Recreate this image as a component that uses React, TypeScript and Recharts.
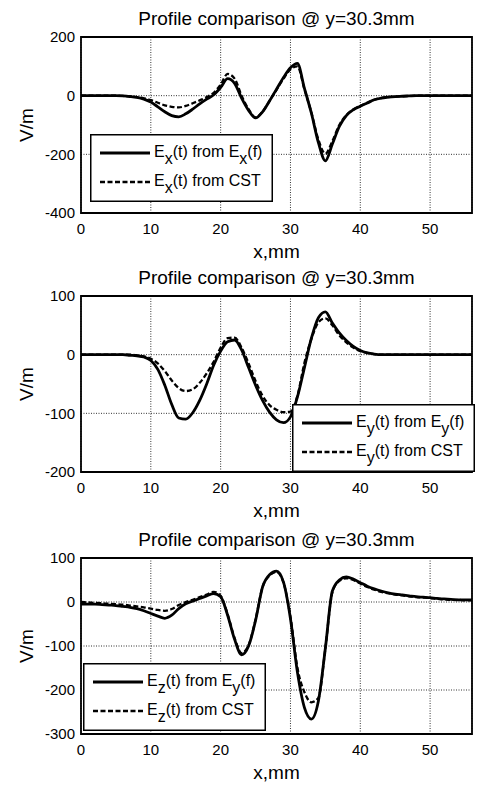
import { LineChart, Line, XAxis, YAxis, CartesianGrid, ReferenceArea, Legend } from "recharts";

// x positions along the profile, mm
const xMm = [
  0, 1, 2, 3, 4, 5, 6, 7, 8, 9, 10, 11, 12, 13, 14, 15, 16, 17, 18, 19, 20, 21, 22, 23, 24, 25, 26, 27, 28,
  29, 30, 31, 32, 33, 34, 35, 36, 37, 38, 39, 40, 41, 42, 43, 44, 45, 46, 47, 48, 49, 50, 51, 52, 53, 54, 55, 56,
];

// panel 1: Ex
const exFromExf = [
  0, 0, 0, 0, 0, 0, -1, -3, -6, -12,
  -22, -38, -55, -68, -72, -62, -46, -28, -12, 3,
  28, 58, 42, -8, -50, -76, -55, -18, 22, 62,
  95, 110, 25, -60, -160, -222, -165, -105, -68, -48,
  -36, -25, -14, -8, -5, -3, -2, -1, 0, 0,
  0, 0, 0, 0, 0, 0, 0,
];
const exFromCst = [
  0, 0, 0, 0, 0, 0, -1, -2, -5, -9,
  -15, -24, -33, -38, -40, -35, -26, -16, -5, 10,
  38, 74, 58, 0, -46, -74, -55, -18, 20, 58,
  90, 100, 22, -58, -150, -198, -155, -100, -66, -47,
  -35, -24, -14, -8, -5, -3, -2, -1, 0, 0,
  0, 0, 0, 0, 0, 0, 0,
];

// panel 2: Ey
const eyFromEyf = [
  0, 0, 0, 0, 0, 0, 0, -1, -2, -4,
  -10, -25, -52, -85, -108, -110, -99, -78, -50, -18,
  6, 22, 25, 8, -22, -52, -78, -98, -111, -116,
  -106, -72, -22, 28, 63, 73, 54, 37, 24, 14,
  7, 3, 1, 0, 0, 0, 0, 0, 0, 0,
  0, 0, 0, 0, 0, 0, 0,
];
const eyFromCst = [
  0, 0, 0, 0, 0, 0, 0, 0, -1, -3,
  -7, -15, -28, -44, -57, -62, -59, -48, -32, -12,
  12, 28, 29, 12, -15, -45, -70, -86, -94, -98,
  -97, -70, -14, 27, 55, 62, 50, 33, 21, 12,
  6, 3, 1, 0, 0, 0, 0, 0, 0, 0,
  0, 0, 0, 0, 0, 0, 0,
];

// panel 3: Ez
const ezFromEyf = [
  -5, -5, -5, -6, -7, -8, -10, -12, -15, -20,
  -26, -32, -37, -30, -15, -4, 2, 8, 14, 19,
  12, -30, -85, -120, -100, -42, 34, 62, 70, 45,
  -38, -160, -240, -266, -225, -105, 25, 50, 57, 52,
  44, 36, 30, 25, 21, 18, 16, 14, 12, 11,
  10, 8, 7, 6, 5, 5, 5,
];
const ezFromCst = [
  0, -1, -2, -3, -4, -5, -6, -8, -10, -12,
  -15, -18, -20, -16, -7, 0, 5, 11, 17, 23,
  14, -28, -82, -116, -98, -40, 34, 60, 68, 44,
  -34, -150, -205, -228, -218, -105, 22, 48, 54, 50,
  42, 34, 28, 23, 20, 17, 15, 13, 11, 10,
  9, 7, 6, 5, 5, 4, 4,
];

const xTicks = [0, 10, 20, 30, 40, 50];
const yTicks1 = [-400, -200, 0, 200];
const yTicks2 = [-200, -100, 0, 100];
const yTicks3 = [-300, -200, -100, 0, 100];

const TITLE = "Profile comparison @ y=30.3mm";
const FONT = "'Liberation Sans', Arial, Helvetica, sans-serif";

type Seg = { t: string; sub?: boolean };

function LegendBox({ rows }: { rows: Seg[][] }) {
  return (
    <svg width={183} height={68} style={{ display: "block" }}>
      <rect x={0.75} y={0.75} width={181.5} height={66.5} fill="#fff" stroke="#000" strokeWidth={1.5} />
      {rows.map((segs, i) => {
        const cy = 19 + i * 29;
        return (
          <g key={i}>
            <line
              x1={10}
              x2={60}
              y1={cy}
              y2={cy}
              stroke="#000"
              strokeWidth={i === 0 ? 2.8 : 2.3}
              strokeDasharray={i === 0 ? undefined : "5 2.5"}
            />
            <text x={64} y={cy + 4} fontFamily={FONT} fontSize={16} fill="#000">
              {segs.map((s, j) => (
                <tspan key={j} dy={s.sub ? 7 : j > 0 && segs[j - 1].sub ? -7 : 0}>
                  {s.t}
                </tspan>
              ))}
            </text>
          </g>
        );
      })}
    </svg>
  );
}

type PanelProps = {
  top: number;
  solid: number[];
  dashed: number[];
  yDomain: [number, number];
  yTicks: number[];
  legendRows: Seg[][];
  legendPos: { left: number; top: number };
};

function Panel({ top, solid, dashed, yDomain, yTicks, legendRows, legendPos }: PanelProps) {
  const data = xMm.map((x, i) => ({ x, solid: solid[i], dashed: dashed[i] }));
  return (
    <div style={{ position: "absolute", left: 0, top, width: 481, height: 262 }}>
      <div
        style={{
          position: "absolute",
          left: 81,
          top: 9,
          width: 391,
          textAlign: "center",
          fontSize: 19,
          lineHeight: "19px",
          color: "#000",
          fontFamily: FONT,
        }}
      >
        {TITLE}
      </div>
      <LineChart width={481} height={262} data={data} margin={{ top: 37, right: 9, bottom: 0, left: 0 }}>
        <CartesianGrid stroke="#333" strokeDasharray="1 1.5" strokeWidth={1} />
        <XAxis
          dataKey="x"
          type="number"
          domain={[0, 56]}
          ticks={xTicks}
          allowDataOverflow
          height={49}
          axisLine={false}
          tickLine={false}
          tickSize={6}
          tickMargin={4}
          tick={{ fill: "#000", fontSize: 15, fontFamily: FONT }}
          label={{ value: "x,mm", position: "insideBottom", offset: 4, fill: "#000", fontSize: 19, fontFamily: FONT }}
        />
        <YAxis
          type="number"
          domain={yDomain}
          ticks={yTicks}
          allowDataOverflow
          width={81}
          axisLine={false}
          tickLine={false}
          tickSize={4}
          tickMargin={2}
          tick={{ fill: "#000", fontSize: 15, fontFamily: FONT }}
          label={(p: any) => {
            const vb = p.viewBox || {};
            const cy = (vb.y ?? 37) + (vb.height ?? 176) / 2;
            return (
              <text
                x={26}
                y={cy}
                transform={`rotate(-90 26 ${cy})`}
                textAnchor="middle"
                dominantBaseline="central"
                fontSize={19}
                fontFamily={FONT}
                fill="#000"
              >
                V/m
              </text>
            );
          }}
        />
        <ReferenceArea
          x1={0}
          x2={56}
          y1={yDomain[0]}
          y2={yDomain[1]}
          fill="none"
          fillOpacity={0}
          stroke="#000"
          strokeWidth={1.8}
          ifOverflow="visible"
        />
        <Line
          dataKey="dashed"
          type="monotone"
          stroke="#000"
          strokeWidth={2.3}
          strokeDasharray="5 2.5"
          dot={false}
          activeDot={false}
          isAnimationActive={false}
        />
        <Line
          dataKey="solid"
          type="monotone"
          stroke="#000"
          strokeWidth={2.8}
          dot={false}
          activeDot={false}
          isAnimationActive={false}
        />
        <Legend
          layout="horizontal"
          verticalAlign="middle"
          align="center"
          wrapperStyle={{ left: legendPos.left, top: legendPos.top, width: 183, height: 68 }}
          content={() => <LegendBox rows={legendRows} />}
        />
      </LineChart>
    </div>
  );
}

const legend1: Seg[][] = [
  [{ t: "E" }, { t: "x", sub: true }, { t: "(t) from E" }, { t: "x", sub: true }, { t: "(f)" }],
  [{ t: "E" }, { t: "x", sub: true }, { t: "(t) from CST" }],
];
const legend2: Seg[][] = [
  [{ t: "E" }, { t: "y", sub: true }, { t: "(t) from E" }, { t: "y", sub: true }, { t: "(f)" }],
  [{ t: "E" }, { t: "y", sub: true }, { t: "(t) from CST" }],
];
const legend3: Seg[][] = [
  [{ t: "E" }, { t: "z", sub: true }, { t: "(t) from E" }, { t: "y", sub: true }, { t: "(f)" }],
  [{ t: "E" }, { t: "z", sub: true }, { t: "(t) from CST" }],
];

export default function App() {
  return (
    <div style={{ position: "absolute", left: 0, top: 0, width: 481, height: 787, background: "#fff", fontFamily: FONT }}>
      <Panel
        top={0}
        solid={exFromExf}
        dashed={exFromCst}
        yDomain={[-400, 200]}
        yTicks={yTicks1}
        legendRows={legend1}
        legendPos={{ left: 90, top: 134 }}
      />
      <Panel
        top={259}
        solid={eyFromEyf}
        dashed={eyFromCst}
        yDomain={[-200, 100]}
        yTicks={yTicks2}
        legendRows={legend2}
        legendPos={{ left: 292, top: 145 }}
      />
      <Panel
        top={521}
        solid={ezFromEyf}
        dashed={ezFromCst}
        yDomain={[-300, 100]}
        yTicks={yTicks3}
        legendRows={legend3}
        legendPos={{ left: 83, top: 142 }}
      />
    </div>
  );
}
